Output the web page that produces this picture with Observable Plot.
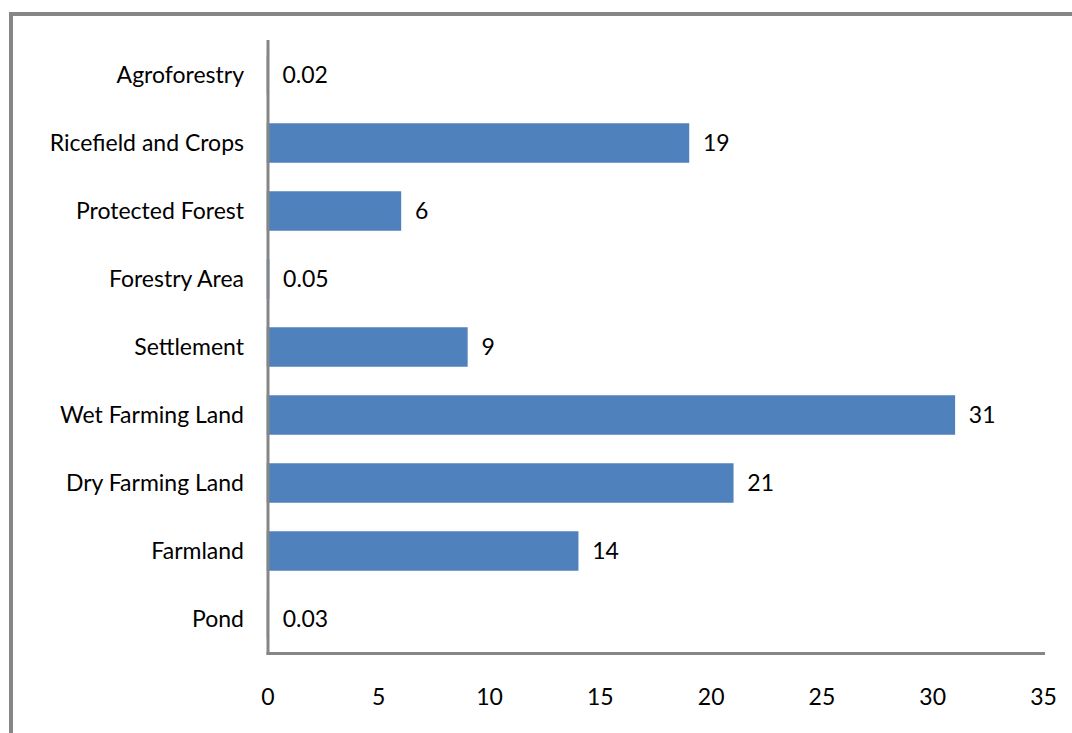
<!DOCTYPE html>
<html>
<head>
<meta charset="utf-8">
<script src="https://cdn.jsdelivr.net/npm/d3@7"></script>
<script src="https://cdn.jsdelivr.net/npm/@observablehq/plot@0.6"></script>
<style>
  html, body { margin: 0; padding: 0; background: #fff; }
  #wrap { position: relative; width: 1072px; height: 733px; overflow: hidden; }
  #border { position: absolute; left: 9px; top: 12px; right: -10px; bottom: -10px;
            border-left: 4px solid #868686; border-top: 4px solid #868686; }
  #chart { position: absolute; left: 0; top: 0; }
</style>
</head>
<body>
<div id="wrap"><div id="border"></div><div id="chart"></div></div>
<script>
const categories = ["Agroforestry", "Ricefield and Crops", "Protected Forest", "Forestry Area",
  "Settlement", "Wet Farming Land", "Dry Farming Land", "Farmland", "Pond"];
const values = [0.02, 19, 6, 0.05, 9, 31, 21, 14, 0.03];
const valueLabels = ["0.02", "19", "6", "0.05", "9", "31", "21", "14", "0.03"];
const xTicks = [0, 5, 10, 15, 20, 25, 30, 35];

const data = categories.map((c, i) => ({category: c, value: values[i], label: valueLabels[i]}));

const chart = Plot.plot({
  width: 1072,
  height: 733,
  marginLeft: 267.5,
  marginRight: 29,
  marginTop: 41,
  marginBottom: 80,
  style: {fontFamily: "Lato, 'Noto Sans', sans-serif", fontSize: "23px", color: "#000", background: "transparent"},
  x: {domain: [0, 35], ticks: xTicks, label: null},
  y: {domain: categories, paddingInner: 0.44, paddingOuter: 0.22, label: null},
  marks: [
    Plot.barX(data, {x: "value", y: "category", fill: "#4F81BD", stroke: "#4F81BD", strokeWidth: 1.5}),
    Plot.text(data, {x: "value", y: "category", text: "label", textAnchor: "start", dx: 14, fill: "#000"}),
    Plot.axisX({ticks: xTicks, tickSize: 0, tickPadding: 35, tickFormat: d => String(d)}),
    Plot.axisY({tickSize: 0, tickPadding: 24}),
    Plot.frame({anchor: "left", stroke: "#868686", strokeWidth: 3}),
    Plot.frame({anchor: "bottom", stroke: "#868686", strokeWidth: 3})
  ]
});
document.getElementById("chart").appendChild(chart);
</script>
</body>
</html>
